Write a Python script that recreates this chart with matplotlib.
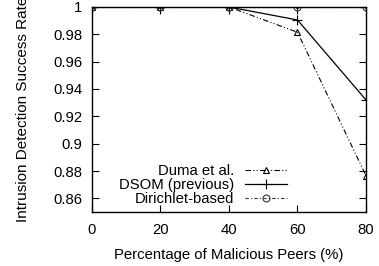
import matplotlib

matplotlib.use("Agg")
import matplotlib.pyplot as plt

plt.rcParams["font.family"] = ["Liberation Sans", "DejaVu Sans"]
plt.rcParams["font.size"] = 10.7

malicious_pct = [0, 20, 40, 60, 80]
duma = [1.0, 1.0, 1.0, 0.9815, 0.8765]
dsom = [1.0, 1.0, 1.0, 0.9905, 0.932]
dirichlet = [1.0, 1.0, 1.0, 1.0, 1.0]

x_ticks = [0, 20, 40, 60, 80]
y_ticks = [0.86, 0.88, 0.9, 0.92, 0.94, 0.96, 0.98, 1.0]
y_labels = ["0.86", "0.88", "0.9", "0.92", "0.94", "0.96", "0.98", "1"]

fig = plt.figure(figsize=(3.79, 2.66), dpi=100)
ax = fig.add_axes([0.2427, 0.203, 0.723, 0.7707])

ax.plot(malicious_pct, duma, color="black", linewidth=0.8,
        dashes=(5, 2, 1, 2, 1, 2), marker="^", markersize=5,
        markerfacecolor="none", markeredgewidth=0.8, label="Duma et al.")
ax.plot(malicious_pct, dsom, color="black", linewidth=0.9,
        marker="+", markersize=7, markeredgewidth=0.8,
        label="DSOM (previous)")
ax.plot(malicious_pct, dirichlet, color="#333333", linewidth=0.8,
        dashes=(3, 2, 1, 2), marker="o", markersize=5,
        markerfacecolor="none", markeredgewidth=0.8, label="Dirichlet-based")
ax.plot(malicious_pct, dirichlet, linestyle="none", marker="o",
        markersize=1.2, color="black")

ax.set_xlim(0, 80)
ax.set_ylim(0.85, 1.0)
ax.set_xticks(x_ticks)
ax.set_yticks(y_ticks)
ax.set_yticklabels(y_labels)
ax.tick_params(direction="in", length=5, width=0.8, top=True, right=True,
               labelsize=10.7)
ax.tick_params(axis="x", pad=8)
ax.tick_params(axis="y", pad=7)
for spine in ax.spines.values():
    spine.set_linewidth(1.0)

ax.set_xlabel("Percentage of Malicious Peers (%)", labelpad=8)
ax.set_ylabel("Intrusion Detection Success Rate", fontsize=11, labelpad=17)

ax.legend(loc="lower right", bbox_to_anchor=(0.712, 0.027), frameon=False,
          markerfirst=False, handlelength=2.8, handletextpad=0.75,
          labelspacing=0.0, borderaxespad=0.0, borderpad=0.0)

fig.savefig("out.png", dpi=100)
